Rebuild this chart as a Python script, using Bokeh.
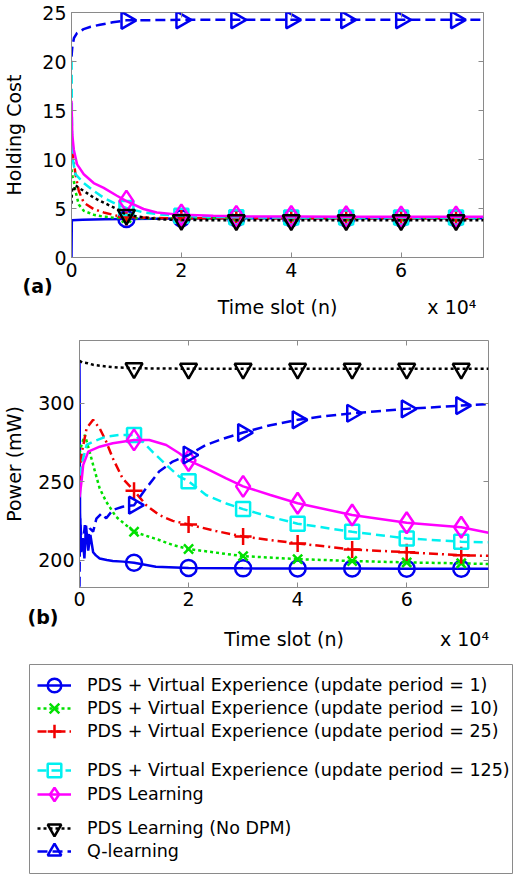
import numpy as np
from bokeh.plotting import figure
from bokeh.layouts import column
from bokeh.models import Range1d, LinearAxis, FixedTicker, Legend, LegendItem, Title
from bokeh.embed import file_html
from bokeh.resources import INLINE

FONT = "DejaVu Sans"

# ---------------- data ----------------
series_labels = [
    "PDS + Virtual Experience (update period = 1)",
    "PDS + Virtual Experience (update period = 10)",
    "PDS + Virtual Experience (update period = 25)",
    "PDS + Virtual Experience (update period = 125)",
    "PDS Learning",
    "PDS Learning (No DPM)",
    "Q-learning",
]
marker_slots = [10000, 20000, 30000, 40000, 50000, 60000, 70000]
x_tick_values = [0, 20000, 40000, 60000]
x_tick_labels = ["0", "2", "4", "6"]
x_title = "Time slot (n)"
x_scale_note = "x 10\u2074"
hold_tick_values = [0, 5, 10, 15, 20, 25]
power_tick_values = [200, 250, 300]

# (a) Holding cost
hold_t_upd1 = [0, 60, 2000, 6000, 10000, 20000, 30000, 40000, 50000, 60000, 70000, 75000]
hold_v_upd1 = [0, 3.8, 3.85, 3.9, 3.93, 3.98, 4.0, 4.0, 4.0, 4.0, 4.0, 4.0]
hold_t_upd10 = [0, 200, 420, 720, 1320, 2230, 4040, 5860, 8000, 10000, 12000, 20000, 30000, 40000, 50000, 60000, 70000, 75000]
hold_v_upd10 = [9.0, 8.2, 7.8, 6.8, 5.4, 4.77, 4.36, 4.16, 4.05, 4.02, 4.0, 4.0, 4.0, 4.0, 4.0, 4.0, 4.0, 4.0]
hold_t_upd25 = [0, 200, 420, 720, 1320, 2230, 4040, 5860, 8270, 10000, 15000, 20000, 30000, 40000, 50000, 60000, 70000, 75000]
hold_v_upd25 = [11.0, 10.5, 9.8, 8.5, 6.8, 5.6, 4.94, 4.6, 4.26, 4.12, 4.03, 4.0, 4.0, 4.0, 4.0, 4.0, 4.0, 4.0]
hold_t_upd125 = [0, 100, 300, 720, 2230, 4040, 5860, 8270, 10000, 13110, 16730, 20000, 25000, 30000, 40000, 50000, 60000, 70000, 75000]
hold_v_upd125 = [21.5, 12.0, 9.8, 8.5, 7.6, 6.8, 6.1, 5.4, 5.05, 4.6, 4.36, 4.25, 4.15, 4.1, 4.08, 4.08, 4.08, 4.08, 4.08]
hold_t_pds = [0, 150, 420, 1020, 2230, 4040, 5860, 8270, 10000, 13110, 15520, 20000, 25800, 30000, 40000, 50000, 60000, 70000, 75000]
hold_v_pds = [16.0, 12.5, 11.0, 9.5, 8.5, 7.6, 7.1, 6.3, 5.75, 4.95, 4.6, 4.35, 4.25, 4.2, 4.18, 4.16, 4.15, 4.15, 4.15]
hold_t_nodpm = [0, 100, 420, 720, 1320, 2230, 4040, 5860, 8270, 10000, 13110, 16000, 20000, 30000, 40000, 50000, 60000, 70000, 75000]
hold_v_nodpm = [5.5, 7.0, 6.8, 7.4, 7.1, 6.8, 6.1, 5.6, 4.94, 4.35, 4.1, 3.9, 3.82, 3.8, 3.8, 3.8, 3.8, 3.8, 3.8]
hold_t_q = [0, 150, 450, 1000, 2200, 3500, 5200, 7500, 10000, 20000, 30000, 40000, 50000, 60000, 70000, 75000]
hold_v_q = [20.5, 21.5, 22.4, 22.9, 23.3, 23.55, 23.75, 24.0, 24.2, 24.25, 24.25, 24.25, 24.25, 24.25, 24.25, 24.25]

# (b) Power (mW)
pow_t_upd1 = [0, 100, 300, 600, 900, 1200, 1600, 2000, 2500, 3000, 3700, 5000, 6100, 8000, 10000, 14000, 20000, 30000, 40000, 50000, 60000, 70000, 75000]
pow_v_upd1 = [326, 230, 205, 214, 201, 222, 206, 216, 205, 203, 201, 200, 199.4, 199.0, 198.3, 195.7, 194.9, 194.7, 194.6, 194.6, 194.5, 194.5, 194.5]
pow_t_upd10 = [0, 370, 980, 1700, 2500, 3700, 4900, 6700, 10000, 14600, 17100, 20000, 30000, 40000, 50000, 60000, 70000, 75000]
pow_v_upd10 = [268, 273.4, 279.8, 271, 260.7, 245.7, 237.2, 227.6, 218.0, 212.8, 209.6, 207.0, 202.5, 200.6, 199.4, 198.5, 197.9, 197.5]
pow_t_upd25 = [0, 400, 1300, 2500, 3700, 4900, 6100, 7900, 10000, 12200, 14600, 17100, 20000, 25000, 30000, 40000, 50000, 60000, 70000, 75000]
pow_v_upd25 = [250, 268, 284, 289.4, 284, 275.5, 264.9, 252.1, 244.2, 235.1, 228.7, 225.0, 222.7, 218.5, 215.0, 210.6, 206.8, 205.0, 203.0, 202.7]
pow_t_upd125 = [0, 370, 1300, 2500, 4900, 7300, 10000, 11600, 13400, 15900, 18300, 20000, 23200, 26900, 30000, 35000, 40000, 50000, 60000, 70000, 75000]
pow_v_upd125 = [245, 260.7, 273.4, 275.5, 278.7, 279.8, 279.8, 275.5, 269.0, 260.7, 253.2, 250.2, 241.5, 236.1, 232.5, 227.5, 223.2, 218.0, 213.8, 211.7, 211.3]
pow_t_pds = [0, 370, 680, 1600, 3700, 6100, 10000, 12800, 15900, 18300, 20000, 23200, 26900, 30000, 35000, 40000, 50000, 60000, 70000, 75000]
pow_v_pds = [240, 250, 260.7, 269.1, 272.3, 274.5, 276.6, 276.6, 273.4, 268.1, 263.5, 258.5, 252.1, 247.0, 241.5, 236.2, 228.7, 223.8, 220.9, 217.4]
pow_t_nodpm = [0, 500, 1500, 2500, 4900, 7000, 10000, 20000, 30000, 40000, 50000, 60000, 70000, 75000]
pow_v_nodpm = [327, 326, 325.5, 324.5, 323.4, 322.8, 322.3, 322.0, 322.0, 322.0, 322.0, 322.0, 322.0, 322.0]
pow_t_q = [0, 100, 500, 980, 1400, 1900, 2500, 3100, 4000, 4900, 6100, 7900, 10000, 12200, 14600, 17100, 20000, 23200, 26000, 30000, 35000, 40000, 45000, 50000, 60000, 70000, 75000]
pow_v_q = [183, 226.6, 205.3, 222.3, 209.6, 220.2, 218.1, 226.4, 229.6, 226.6, 231.9, 234.0, 235.0, 245.7, 256.4, 262.8, 267.0, 273.4, 277.0, 281.3, 286.0, 289.4, 291.8, 293.6, 296.4, 298.5, 299.4]

hold_series = [(hold_t_upd1, hold_v_upd1), (hold_t_upd10, hold_v_upd10), (hold_t_upd25, hold_v_upd25),
               (hold_t_upd125, hold_v_upd125), (hold_t_pds, hold_v_pds), (hold_t_nodpm, hold_v_nodpm),
               (hold_t_q, hold_v_q)]
pow_series = [(pow_t_upd1, pow_v_upd1), (pow_t_upd10, pow_v_upd10), (pow_t_upd25, pow_v_upd25),
              (pow_t_upd125, pow_v_upd125), (pow_t_pds, pow_v_pds), (pow_t_nodpm, pow_v_nodpm),
              (pow_t_q, pow_v_q)]

# ---------------- styles ----------------
STYLES = [
    dict(color="#0000f0", dash="solid", marker="circle", size=16, angle=0.0),
    dict(color="#00e000", dash="3 3", marker="x", size=13, angle=0.0),
    dict(color="#f00000", dash="9 4 2 4", marker="cross", size=17, angle=0.0),
    dict(color="#00f0f0", dash="9 5", marker="square", size=14, angle=0.0),
    dict(color="#ff00ff", dash="solid", marker="diamond", size=21, angle=0.0),
    dict(color="#000000", dash="3 3", marker="inverted_triangle", size=17, angle=0.0),
    dict(color="#0000f0", dash="10 5", marker="triangle", size=17, angle=-np.pi / 2),
]
LW = 2.5
FRAME_COLOR = "#8a8a8a"
W = 526


def style_axis(ax, ticks, overrides=None):
    ax.ticker = FixedTicker(ticks=ticks)
    if overrides:
        ax.major_label_overrides = overrides
    ax.major_label_text_font = FONT
    ax.major_label_text_font_size = "19px"
    ax.major_label_text_color = "black"
    ax.axis_label_text_font = FONT
    ax.axis_label_text_font_size = "19px"
    ax.axis_label_text_font_style = "normal"
    ax.axis_label_text_color = "black"
    ax.major_tick_in = 5
    ax.major_tick_out = 0
    ax.minor_tick_line_color = None
    ax.major_tick_line_color = FRAME_COLOR
    ax.axis_line_color = FRAME_COLOR


def add_box_ticks(p, xticks, yticks):
    for side, ticks in (("above", xticks), ("right", yticks)):
        ax = LinearAxis(ticker=FixedTicker(ticks=ticks), major_label_text_font_size="0px",
                        major_label_standoff=0, major_tick_in=5, major_tick_out=0,
                        minor_tick_line_color=None, axis_line_color=None,
                        major_tick_line_color=FRAME_COLOR, major_label_text_color=None)
        p.add_layout(ax, side)


def make_chart(series, y_rng, yticks, ylabel, height, borders, ylabel_standoff,
               tick_standoff, title_standoff, note_pos, panel_tag, tag_offset, tag_standoff):
    left, right, top, bottom = borders
    p = figure(width=W, height=height, x_range=Range1d(0, 75000), y_range=Range1d(*y_rng),
               output_backend="svg", toolbar_location=None, frame_align=False,
               min_border_left=left, min_border_right=right, min_border_top=top,
               min_border_bottom=bottom, background_fill_color="white",
               border_fill_color="white")
    p.xgrid.visible = False
    p.ygrid.visible = False
    p.outline_line_color = FRAME_COLOR
    p.outline_line_width = 1
    p.outline_line_alpha = 1.0
    style_axis(p.xaxis[0], x_tick_values, dict(zip(x_tick_values, x_tick_labels)))
    style_axis(p.yaxis[0], yticks)
    p.xaxis[0].major_label_standoff = tick_standoff
    p.yaxis[0].axis_label = ylabel
    p.yaxis[0].major_label_standoff = 5
    p.yaxis[0].axis_label_standoff = ylabel_standoff
    add_box_ticks(p, x_tick_values, yticks)

    # second row under the ticks: axis title (centred) and the scale note (right)
    centre = (p.x_range.start + p.x_range.end) / 2
    lab_axis = LinearAxis(ticker=FixedTicker(ticks=[centre, note_pos]),
                          major_label_overrides={centre: x_title, note_pos: x_scale_note},
                          major_tick_line_color=None, minor_tick_line_color=None,
                          axis_line_color=None, major_label_standoff=title_standoff,
                          major_label_text_font=FONT, major_label_text_font_size="19px",
                          major_label_text_color="black")
    p.add_layout(lab_axis, "below")
    p.add_layout(Title(text=panel_tag, align="left", offset=tag_offset, vertical_align="top",
                       standoff=tag_standoff, text_font=FONT, text_font_size="19px",
                       text_font_style="bold", text_color="black"), "below")

    for (t, v), st in zip(series, STYLES):
        p.line(t, v, line_color=st["color"], line_width=LW, line_dash=st["dash"])
        mt = [tt for tt in t if tt in marker_slots]
        mv = [vv for tt, vv in zip(t, v) if tt in marker_slots]
        p.scatter(mt, mv, marker=st["marker"], size=st["size"], angle=st["angle"],
                  line_color=st["color"], fill_color=None, line_width=LW)
    return p


# ---------------- (a) ----------------
pa = make_chart(hold_series, (0, 25), hold_tick_values, "Holding Cost", 326, (68, 43, 12, 69),
                14, 5, 10, 69245, "(a)", -49, -91)

# ---------------- (b) ----------------
pb = make_chart(pow_series, (182.5, 340), power_tick_values, "Power (mW)", 328, (77, 38, 14, 67),
                10, 4, 13, 70600, "(b)", -52, -94)

# ---------------- legend panel ----------------
pl = figure(width=W, height=220, x_range=Range1d(-2, -1), y_range=Range1d(-2, -1),
            x_axis_type=None, y_axis_type=None, output_backend="svg", toolbar_location=None,
            frame_align=False,
            min_border_left=29, min_border_right=14, min_border_top=10, min_border_bottom=0)
pl.grid.visible = False
pl.outline_line_color = FRAME_COLOR
pl.outline_line_width = 1
legend_rows_y = [172, 149, 126, 87, 63, 29, 6]
for lab, st, (t, v), ly in zip(series_labels, STYLES, pow_series, legend_rows_y):
    # same series, kept outside this panel's view: only their legend glyphs show
    lr = pl.line(t, v, line_color=st["color"], line_width=LW, line_dash=st["dash"])
    sr = pl.scatter(t[:1], v[:1], marker=st["marker"], size=st["size"], angle=[st["angle"]],
                    line_color=st["color"], fill_color=None, line_width=LW)
    leg = Legend(items=[LegendItem(label=lab, renderers=[lr, sr], index=0)], location=(8, ly),
                 border_line_color=None, background_fill_alpha=0, padding=0, margin=0,
                 glyph_width=34, glyph_height=34, label_height=34, label_standoff=16,
                 label_text_font=FONT, label_text_font_size="17.5px", label_text_color="black")
    pl.add_layout(leg)

layout = column(pa, pb, pl, spacing=0)
open("out.html", "w").write(file_html(layout, INLINE))
